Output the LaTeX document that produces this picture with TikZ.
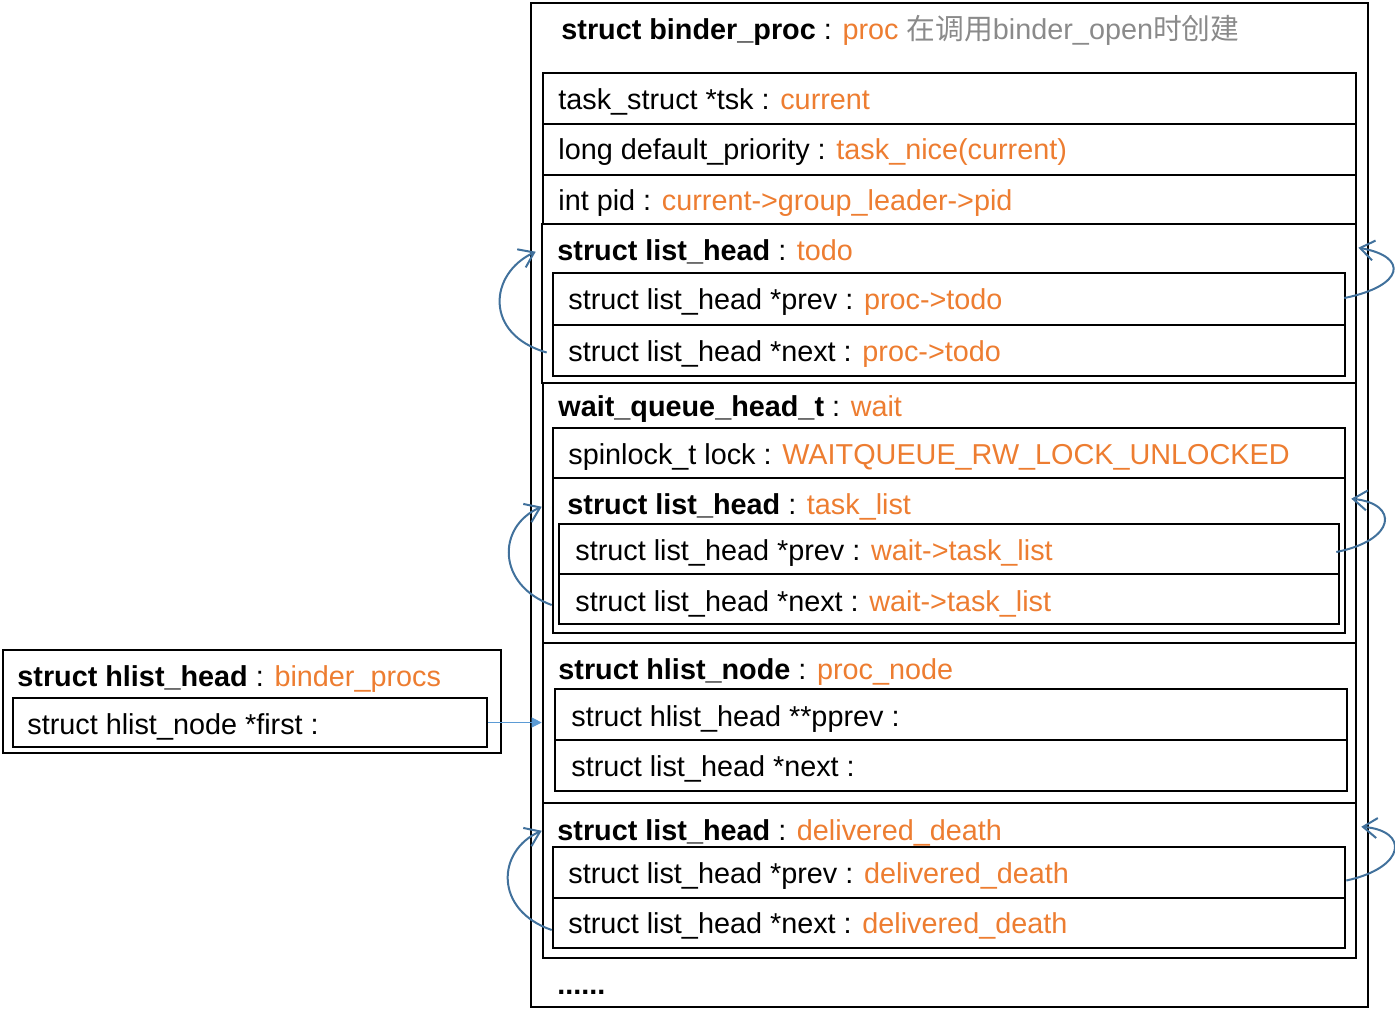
\documentclass[tikz,border=0pt]{standalone}
\usepackage{fontspec}
\setmainfont{Liberation Sans}
\newfontfamily\cjk{Noto Sans CJK SC}
\usetikzlibrary{calc,fit,arrows.meta}
\definecolor{valorange}{HTML}{ED7D31}
\definecolor{notegray}{HTML}{8A8A8A}
\definecolor{linkblue}{HTML}{41719C}
\definecolor{ptrblue}{HTML}{5B9BD5}
\newcommand\val[1]{\textcolor{valorange}{#1}}
\tikzset{
	box/.style={draw, line width=1.3pt, inner sep=0pt},
	outerbox/.style={draw, line width=1pt, inner sep=0pt},
	lbl/.style={anchor=base west, inner sep=0pt, font=\fontsize{14.4}{17}\selectfont},
	link/.style={draw=linkblue, line width=1pt, -{Straight Barb[length=7pt,width=10pt]}},
	ptr/.style={draw=ptrblue, line width=0.5pt, -{Triangle[length=5pt,width=5pt]}}
}

\begin{document}
\begin{tikzpicture}[x=0.5pt, y=-0.5pt]
		%%%%% START %%%%%
		\useasboundingbox (0,0) rectangle (1395,1018);
		
		\node[outerbox, fit={(531,3) (1368,1007)}] (proc) {};
		\node[lbl] (proctitle) at (561,39) {\textbf{struct binder\_proc} : \val{proc} \textcolor{notegray}{{\cjk 在调用}binder\_open{\cjk 时创建}}};
		
		\node[box, fit={(543,73) (1356,124)}] (tsk) {};
		\node[lbl] (tsklbl) at (558,109) {task\_struct *tsk : \val{current}};
		\node[box, fit={(543,124) (1356,175)}] (prio) {};
		\node[lbl] (priolbl) at (558,159) {long default\_priority\ : \val{task\_nice(current)}};
		\node[box, fit={(543,175) (1356,224)}] (pid) {};
		\node[lbl] (pidlbl) at (558,210) {int pid : \val{current->group\_leader->pid}};
		
		% todo
		\node[box, fit={(542,224) (1356,383)}] (todo) {};
		\node[lbl] (todolbl) at (557,260) {\textbf{struct list\_head} : \val{todo}};
		\node[box, fit={(553,273) (1345,325)}] (todoprev) {};
		\node[lbl] (todoprevlbl) at (568,309) {struct list\_head *prev : \val{proc->todo}};
		\node[box, fit={(553,325) (1345,376)}] (todonext) {};
		\node[lbl] (todonextlbl) at (568,361) {struct list\_head *next : \val{proc->todo}};
		
		% wait
		\node[box, fit={(543,383) (1356,643)}] (wait) {};
		\node[lbl] (waitlbl) at (558,416) {\textbf{wait\_queue\_head\_t} : \val{wait}};
		\node[box, fit={(553,428) (1345,478)}] (lock) {};
		\node[lbl] (locklbl) at (568,464) {spinlock\_t lock : \val{WAITQUEUE\_RW\_LOCK\_UNLOCKED}};
		\node[box, fit={(553,478) (1345,633)}] (tasklist) {};
		\node[lbl] (tasklistlbl) at (567,514) {\textbf{struct list\_head} : \val{task\_list}};
		\node[box, fit={(559,524) (1339,574)}] (tlprev) {};
		\node[lbl] (tlprevlbl) at (575,560) {struct list\_head *prev : \val{wait->task\_list}};
		\node[box, fit={(559,574) (1339,624)}] (tlnext) {};
		\node[lbl] (tlnextlbl) at (575,611) {struct list\_head *next : \val{wait->task\_list}};
		
		% proc_node
		\node[box, fit={(543,643) (1356,803)}] (procnode) {};
		\node[lbl] (procnodelbl) at (558,679) {\textbf{struct hlist\_node} : \val{proc\_node}};
		\node[box, fit={(555,689) (1347,740)}] (pprev) {};
		\node[lbl] (pprevlbl) at (571,726) {struct hlist\_head **pprev :};
		\node[box, fit={(555,740) (1347,791)}] (pnnext) {};
		\node[lbl] (pnnextlbl) at (571,776) {struct list\_head *next :};
		
		% delivered_death
		\node[box, fit={(543,803) (1356,958)}] (dd) {};
		\node[lbl] (ddlbl) at (557,840) {\textbf{struct list\_head} : \val{delivered\_death}};
		\node[box, fit={(553,847) (1345,898)}] (ddprev) {};
		\node[lbl] (ddprevlbl) at (568,883) {struct list\_head *prev : \val{delivered\_death}};
		\node[box, fit={(553,898) (1345,948)}] (ddnext) {};
		\node[lbl] (ddnextlbl) at (568,933) {struct list\_head *next : \val{delivered\_death}};
		
		\node[lbl] (more) at (557,994) {\textbf{......}};
		
		% binder_procs
		\node[outerbox, fit={(3,650) (501,753)}] (procs) {};
		\node[lbl] (procslbl) at (17,686) {\textbf{struct hlist\_head} : \val{binder\_procs}};
		\node[box, fit={(13,698) (487,747)}] (first) {};
		\node[lbl] (firstlbl) at (27,734) {struct hlist\_node *first :};
		
		\draw[ptr] (first.east) -- (first.east -| procnode.west);
		
		% list links
		\draw[link] ($(todonext.west)+(-5,2)$) .. controls +(-63,-18) and +(-47,22) .. ($(todo.north west)+(-5,29)$);
		\draw[link] ($(todoprev.east)+(-2,-1)$) .. controls +(60,-12) and +(51,9) .. ($(todo.north east)+(1,25)$);
		\draw[link] ($(tlnext.west)+(-6,6)$) .. controls +(-55,-20) and +(-45,20) .. ($(tasklist.north west)+(-10,30)$);
		\draw[link] ($(tlprev.east)+(-4,3)$) .. controls +(60,-12) and +(48,5) .. ($(tasklist.north east)+(5,22)$);
		\draw[link] ($(ddnext.west)+(0,7)$) .. controls +(-58,-20) and +(-45,20) .. ($(dd.north west)+(0,29)$);
		\draw[link] ($(ddprev.east)+(0,8)$) .. controls +(60,-13) and +(48,4) .. ($(dd.north east)+(4,25)$);
		%%%%% END %%%%%
\end{tikzpicture}
\end{document}
